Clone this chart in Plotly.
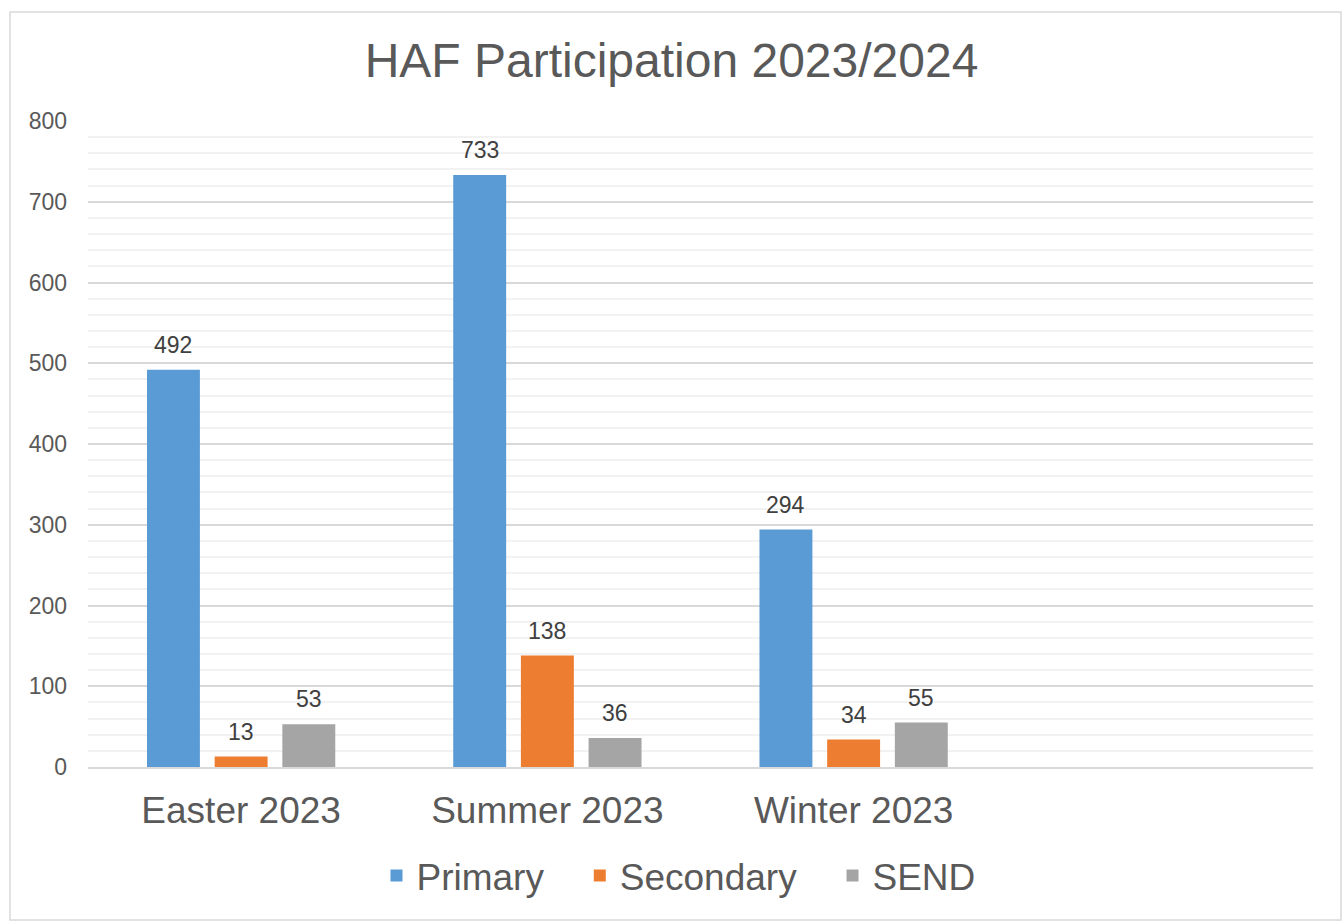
import plotly.graph_objects as go

categories = ["Easter 2023", "Summer 2023", "Winter 2023"]
primary = [492, 733, 294]
secondary = [13, 138, 34]
send = [53, 36, 55]
series_names = ["Primary", "Secondary", "SEND"]
colors = ["#5B9BD5", "#ED7D31", "#A5A5A5"]

font_family = "Liberation Sans, Arial, sans-serif"
text_color = "#595959"

L, R, T, B = 88, 30, 121, 155
W, H = 1343, 922
pw, ph = W - L - R, H - T - B
n_slots = 4  # three filled categories plus one empty slot on the right
bargap = 0.337
bargroupgap = 0.218
slot_px = pw / n_slots * (1 - bargap) / 3

fig = go.Figure()
annotations = []
for i, (name, vals, col) in enumerate(zip(series_names, [primary, secondary, send], colors)):
    fig.add_trace(go.Bar(
        x=categories, y=vals, name=name + "\u00a0\u00a0\u00a0", marker_color=col,
        marker_line_width=0, hoverinfo="x+y",
    ))
    for c, v in zip(categories, vals):
        annotations.append(dict(
            x=c, y=v, xref="x", yref="y", text=str(v), showarrow=False,
            xshift=(i - 1) * slot_px, yshift=10, yanchor="bottom",
            font=dict(size=23, color="#404040", family=font_family),
        ))

fig.update_layout(
    width=W, height=H,
    margin=dict(l=L, r=R, t=T, b=B),
    paper_bgcolor="white", plot_bgcolor="white",
    barmode="group", bargap=bargap, bargroupgap=bargroupgap,
    font=dict(family=font_family, color=text_color),
    title=dict(text="HAF Participation 2023/2024", x=0.5, xanchor="center",
               y=1 - 60 / H, yanchor="middle", yref="container",
               font=dict(size=48, color=text_color, family=font_family)),
    legend=dict(orientation="h", x=(694 - L) / pw, xanchor="center", y=(T + ph - 876) / ph,
                yanchor="middle", font=dict(size=37, color=text_color),
                traceorder="normal"),
    xaxis=dict(type="category", range=[-0.5, n_slots - 0.5], showgrid=False,
               showline=True, linecolor="#D9D9D9", linewidth=2,
               ticks="", tickfont=dict(size=37, color=text_color),
               ticklabelstandoff=10, fixedrange=True),
    yaxis=dict(range=[0, 800], dtick=100, showgrid=True, gridcolor="#D9D9D9",
               gridwidth=1.5, zeroline=False, showline=False, ticks="",
               tickfont=dict(size=23, color=text_color), ticklabelstandoff=20,
               minor=dict(dtick=20, showgrid=True, gridcolor="#F2F2F2", gridwidth=1.5),
               fixedrange=True),
    annotations=annotations,
    shapes=[dict(type="rect", xref="paper", yref="paper",
                 x0=(10 - L) / pw, x1=(1341 - L) / pw,
                 y0=(T + ph - 920) / ph, y1=(T + ph - 12) / ph,
                 line=dict(color="#D9D9D9", width=1.5), fillcolor="rgba(0,0,0,0)",
                 layer="below")],
)

fig.write_html("out.html", config={"displayModeBar": False},
               post_script="document.body.style.margin='0px';")
